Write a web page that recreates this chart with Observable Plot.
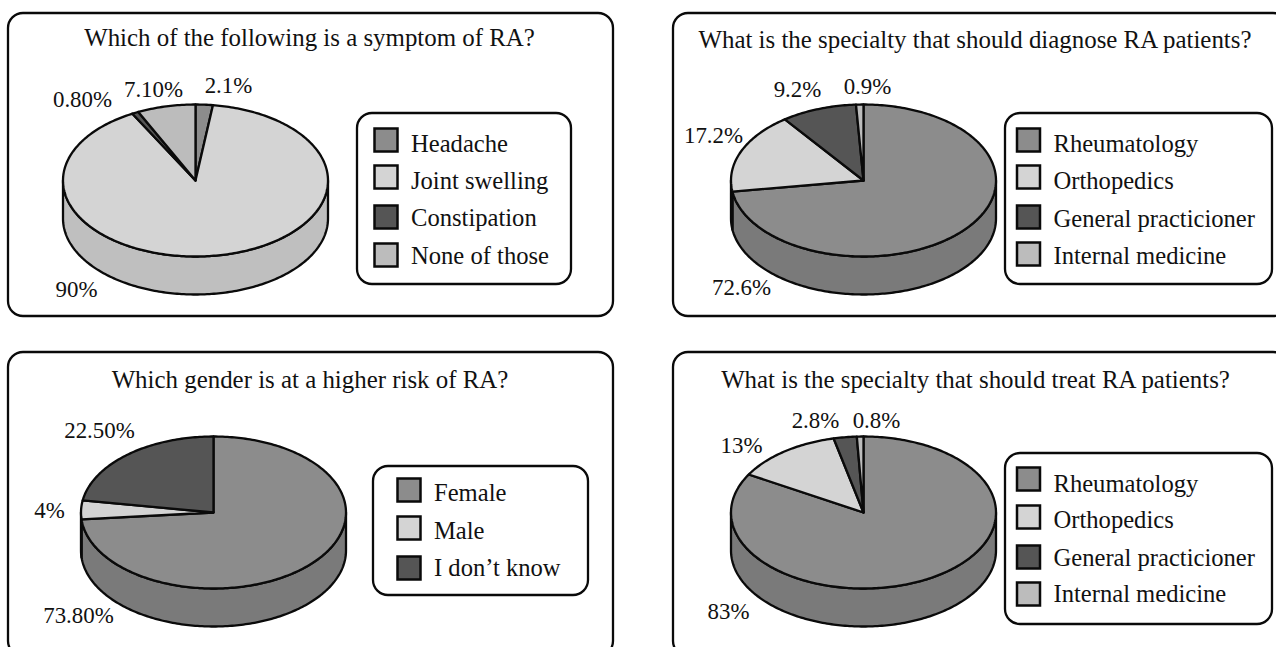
<!DOCTYPE html>
<html><head><meta charset="utf-8">
<script src="https://cdn.jsdelivr.net/npm/d3@7"></script>
<script src="https://cdn.jsdelivr.net/npm/@observablehq/plot@0.6"></script>
<style>html,body{margin:0;padding:0;background:#fff;overflow:hidden}svg{display:block}</style>
</head><body>
<div id="chart"></div>
<script>
// ---- data ----
const titles = ["Which of the following is a symptom of RA?",
  "What is the specialty that should diagnose RA patients?",
  "Which gender is at a higher risk of RA?",
  "What is the specialty that should treat RA patients?"];
const symptomLabels = ["Headache","Joint swelling","Constipation","None of those"];
const symptomValues = [2.1,90,0.8,7.1];
const symptomText = ["2.1%","90%","0.80%","7.10%"];
const diagnoseLabels = ["Rheumatology","Orthopedics","General practicioner","Internal medicine"];
const diagnoseValues = [72.6,17.2,9.2,0.9];
const diagnoseText = ["72.6%","17.2%","9.2%","0.9%"];
const genderLabels = ["Female","Male","I don\u2019t know"];
const genderValues = [73.8,4,22.5];
const genderText = ["73.80%","4%","22.50%"];
const treatLabels = ["Rheumatology","Orthopedics","General practicioner","Internal medicine"];
const treatValues = [83,13,2.8,0.8];
const treatText = ["83%","13%","2.8%","0.8%"];

// ---- styles ----
const dark = "#0a0a0a";
const font = "Liberation Serif, Times New Roman, serif";
const tops = ["#8c8c8c","#d4d4d4","#555555","#bcbcbc"];
const walls = ["#7a7a7a","#bfbfbf","#444444","#a8a8a8"];

// ---- layout ----
const charts = [
  {title:titles[0], labels:symptomLabels, values:symptomValues, text:symptomText,
   panel:[8,613,13,316], titleAt:[309,38], cx:195, cy:180,
   legend:[357,571,113,284], swX:374.5, swatchRows:[140,177,217,255], textRows:[143,180,217,255],
   at:[[228,85],[76,289],[82,99],[153,89]]},
  {title:titles[1], labels:diagnoseLabels, values:diagnoseValues, text:diagnoseText,
   panel:[673,1288,13,316], titleAt:[974.5,40], cx:863, cy:180,
   legend:[1005,1272,113,284], swX:1017, swatchRows:[140,177,217,254], textRows:[143,180,218,255],
   at:[[741,287],[713,135],[797,89],[867,86]]},
  {title:titles[2], labels:genderLabels, values:genderValues, text:genderText,
   panel:[8,613,352,656], titleAt:[309.5,380], cx:213, cy:512,
   legend:[373,588,466,595], swX:397.5, swatchRows:[490,528,568], textRows:[492,530,567],
   at:[[78,615],[49,510],[99,430]]},
  {title:titles[3], labels:treatLabels, values:treatValues, text:treatText,
   panel:[673,1288,352,656], titleAt:[975,380], cx:863, cy:512,
   legend:[1005,1272,453,624], swX:1017, swatchRows:[479,517,557,594], textRows:[483,519,557,593],
   at:[[728,611],[741,445],[815,420],[876,420]]}
];
const RX = 132.5, RY = 76, DEPTH = 38;

function arcPoints(c, a0, a1, drop) {
  const n = Math.max(2, Math.ceil((a1 - a0) * 180 / Math.PI));
  return d3.range(n + 1).map(i => {
    const a = a0 + (a1 - a0) * i / n;
    return {x: c.cx + RX * Math.sin(a), y: c.cy - RY * Math.cos(a) + drop};
  });
}
const poly = (pts, fill) => Plot.line([...pts, pts[0]], {x:"x", y:"y", fill, stroke:dark, strokeWidth:2.3, strokeLinejoin:"round"});

const marks = [];
for (const c of charts) {
  const [px1,px2,py1,py2] = c.panel, [lx1,lx2,ly1,ly2] = c.legend;
  marks.push(Plot.rect([c], {x1:()=>px1, x2:()=>px2, y1:()=>py1, y2:()=>py2, rx:15, fill:"white", stroke:dark, strokeWidth:2.3}));
  marks.push(Plot.text([c.title], {x:()=>c.titleAt[0], y:()=>c.titleAt[1], text:d=>d, fontFamily:font, fontSize:24.9, fill:"#111"}));
  const total = d3.sum(c.values);
  const angles = Array.from(d3.cumsum([0, ...c.values]), v => v / total * 2 * Math.PI);
  // side wall: the front half of the rim, from 90deg to 270deg
  c.values.forEach((_, i) => {
    const a0 = Math.max(angles[i], Math.PI/2), a1 = Math.min(angles[i+1], 3*Math.PI/2);
    if (a1 > a0) {
      const top = arcPoints(c, a0, a1, 0), bottom = arcPoints(c, a0, a1, DEPTH).reverse();
      marks.push(poly([...top, ...bottom], walls[i]));
    }
  });
  // top face
  c.values.forEach((_, i) => {
    marks.push(poly([{x:c.cx, y:c.cy}, ...arcPoints(c, angles[i], angles[i+1], 0)], tops[i]));
  });
  // value labels
  marks.push(Plot.text(c.text, {x:(d,i)=>c.at[i][0], y:(d,i)=>c.at[i][1], text:d=>d, fontFamily:font, fontSize:22.9, fill:"#111"}));
  // legend
  marks.push(Plot.rect([c], {x1:()=>lx1, x2:()=>lx2, y1:()=>ly1, y2:()=>ly2, rx:15, fill:"white", stroke:dark, strokeWidth:2.3}));
  marks.push(Plot.rect(c.labels, {x1:()=>c.swX, x2:()=>c.swX+23, y1:(d,i)=>c.swatchRows[i]-11.5, y2:(d,i)=>c.swatchRows[i]+11.5, fill:(d,i)=>tops[i], stroke:dark, strokeWidth:2.5}));
  marks.push(Plot.text(c.labels, {x:()=>c.swX+36, y:(d,i)=>c.textRows[i]+1, text:d=>d, textAnchor:"start", fontFamily:font, fontSize:24.6, fill:"#111"}));
}

const chart = Plot.plot({
  width:1276, height:647, margin:0,
  style:{background:"#fff"},
  x:{type:"linear", domain:[0,1276], range:[0,1276], axis:null},
  y:{type:"linear", domain:[0,647], range:[0,647], axis:null},
  color:{type:"identity"},
  marks
});
document.getElementById("chart").append(chart);
</script>
</body></html>
